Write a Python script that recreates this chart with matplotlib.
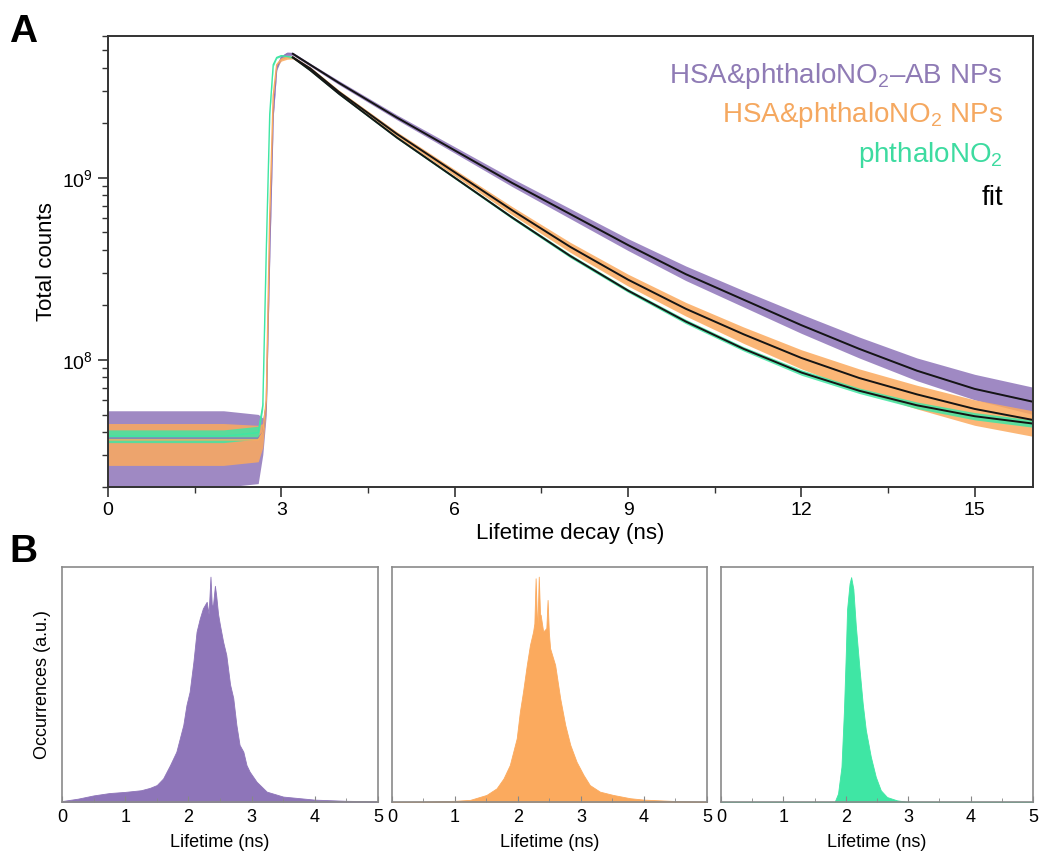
import numpy as np
import matplotlib
matplotlib.use("Agg")
import matplotlib.pyplot as plt
from matplotlib.ticker import LogLocator, MultipleLocator, NullFormatter

plt.rcParams['font.family'] = ['Liberation Sans', 'DejaVu Sans']
plt.rcParams['mathtext.fontset'] = 'custom'
plt.rcParams['mathtext.rm'] = 'Liberation Sans'
plt.rcParams['mathtext.it'] = 'Liberation Sans:italic'

# colours
PURPLE = '#8e75b9'
ORANGE = '#fbaa5e'
GREEN = '#3fe6a4'

# ---- panel A data (log10 of total counts) ----
# baseline + rising edge
t_rise = [0, 1, 2, 2.6, 2.68, 2.74, 2.8, 2.86, 2.92, 3.0, 3.1]
purple_rise = [7.57, 7.57, 7.57, 7.57, 7.6, 7.75, 8.6, 9.35, 9.6, 9.66, 9.68]
orange_rise = [7.56, 7.56, 7.56, 7.56, 7.6, 7.78, 8.8, 9.45, 9.62, 9.65, 9.66]
green_rise = [7.58, 7.58, 7.58, 7.6, 7.75, 8.6, 9.35, 9.62, 9.66, 9.67, 9.665]

# decay (fit curves; the data scatter around them)
t_fit = [3.2, 3.5, 4, 5, 6, 7, 8, 9, 10, 11, 12, 13, 14, 15, 16]
purple_fit = [9.68, 9.62, 9.52, 9.33, 9.15, 8.97, 8.80, 8.63, 8.47, 8.33, 8.19, 8.06, 7.94, 7.84, 7.77]
orange_fit = [9.66, 9.60, 9.47, 9.24, 9.03, 8.82, 8.62, 8.44, 8.28, 8.14, 8.01, 7.90, 7.81, 7.73, 7.67]
green_fit = [9.66, 9.59, 9.46, 9.22, 9.00, 8.78, 8.57, 8.38, 8.21, 8.06, 7.93, 7.83, 7.75, 7.69, 7.65]

# noise envelope (decades below / above the centre), on t_rise + t_fit
purple_lo = [0.27, 0.27, 0.27, 0.25, 0.12, 0.05, 0.03, 0.02, 0.01, 0.01, 0.01,
             0.008, 0.008, 0.01, 0.012, 0.015, 0.02, 0.025, 0.03, 0.035, 0.04, 0.045, 0.05, 0.055, 0.06, 0.07]
purple_hi = [0.15, 0.15, 0.15, 0.13, 0.08, 0.04, 0.03, 0.02, 0.01, 0.01, 0.01,
             0.008, 0.008, 0.012, 0.015, 0.02, 0.025, 0.03, 0.035, 0.045, 0.05, 0.06, 0.065, 0.07, 0.08, 0.08]
orange_lo = [0.14, 0.14, 0.14, 0.12, 0.08, 0.04, 0.03, 0.02, 0.01, 0.01, 0.01,
             0.008, 0.008, 0.01, 0.015, 0.02, 0.025, 0.03, 0.035, 0.04, 0.05, 0.06, 0.07, 0.08, 0.09, 0.09]
orange_hi = [0.09, 0.09, 0.09, 0.08, 0.05, 0.03, 0.02, 0.01, 0.01, 0.01, 0.01,
             0.008, 0.008, 0.01, 0.012, 0.015, 0.02, 0.025, 0.03, 0.035, 0.04, 0.045, 0.05, 0.05, 0.05, 0.05]
green_lo = [0.035, 0.035, 0.035, 0.035, 0.02, 0.01, 0.01, 0.01, 0.005, 0.005, 0.005,
            0.004, 0.004, 0.004, 0.005, 0.006, 0.008, 0.01, 0.01, 0.012, 0.012, 0.015, 0.015, 0.018, 0.02, 0.02]
green_hi = [0.035, 0.035, 0.035, 0.035, 0.02, 0.01, 0.01, 0.01, 0.005, 0.005, 0.005,
            0.004, 0.004, 0.004, 0.005, 0.006, 0.008, 0.01, 0.01, 0.012, 0.012, 0.015, 0.015, 0.018, 0.02, 0.02]

legend_labels = ['HSA&phthaloNO$_2$\u2013AB NPs', 'HSA&phthaloNO$_2$ NPs', 'phthaloNO$_2$', 'fit']

# ---- panel B data (normalised occurrences) ----
purple_t = [0, 0.25, 0.5, 0.75, 1.0, 1.25, 1.39, 1.5, 1.6, 1.71, 1.81, 1.92, 1.97, 2.02, 2.08, 2.13,
            2.18, 2.23, 2.29, 2.32, 2.35, 2.37, 2.39, 2.42, 2.44, 2.47, 2.50, 2.55, 2.60, 2.66, 2.71,
            2.76, 2.81, 2.87, 2.92, 2.97, 3.08, 3.24, 3.5, 4.0, 4.5, 5.0]
purple_h = [0.004, 0.014, 0.028, 0.038, 0.043, 0.05, 0.06, 0.072, 0.10, 0.157, 0.214, 0.328, 0.413,
            0.469, 0.597, 0.725, 0.78, 0.824, 0.852, 0.80, 0.959, 0.84, 0.838, 0.92, 0.88, 0.80, 0.753,
            0.682, 0.626, 0.50, 0.443, 0.328, 0.243, 0.214, 0.157, 0.129, 0.086, 0.044, 0.023, 0.01,
            0.005, 0.003]

orange_t = [0, 0.5, 1.0, 1.24, 1.5, 1.66, 1.77, 1.87, 1.98, 2.03, 2.08, 2.14, 2.19, 2.24, 2.26, 2.28,
            2.30, 2.31, 2.33, 2.35, 2.36, 2.40, 2.45, 2.47, 2.49, 2.51, 2.59, 2.67, 2.75, 2.83, 2.93,
            3.04, 3.14, 3.30, 3.51, 3.78, 4.0, 4.5, 5.0]
orange_h = [0.001, 0.002, 0.005, 0.009, 0.03, 0.058, 0.10, 0.157, 0.271, 0.384, 0.469, 0.583, 0.668,
            0.725, 0.76, 0.952, 0.78, 0.753, 0.959, 0.80, 0.796, 0.725, 0.74, 0.86, 0.72, 0.654, 0.583,
            0.441, 0.328, 0.243, 0.171, 0.115, 0.072, 0.044, 0.03, 0.016, 0.01, 0.004, 0.002]

green_t = [0, 1.82, 1.875, 1.93, 1.97, 2.0, 2.02, 2.06, 2.085, 2.12, 2.16, 2.22, 2.27, 2.32, 2.40,
           2.48, 2.56, 2.66, 2.82, 2.98, 5.0]
green_h = [0, 0, 0.036, 0.15, 0.39, 0.636, 0.82, 0.93, 0.957, 0.907, 0.75, 0.564, 0.42, 0.307, 0.193,
           0.107, 0.05, 0.021, 0.007, 0.001, 0]

# ---------------------------------------------------------------
fig = plt.figure(figsize=(10.4, 8.56), dpi=100)

ax = fig.add_axes([0.1038, 0.431, 0.889, 0.527])

t_all = np.array(t_rise + t_fit)
curves = [(purple_rise, purple_fit, purple_lo, purple_hi, PURPLE),
          (orange_rise, orange_fit, orange_lo, orange_hi, ORANGE),
          (green_rise, green_fit, green_lo, green_hi, GREEN)]
for rise, fit, lo, hi, col in curves:
    centre = np.array(rise + fit)
    ax.fill_between(t_all, 10 ** (centre - np.array(lo)), 10 ** (centre + np.array(hi)),
                    color=col, lw=0, alpha=0.85)
    ax.plot(t_all, 10 ** centre, color=col, lw=1.0)

for fit in [purple_fit, orange_fit, green_fit]:
    ax.plot(t_fit, 10 ** np.array(fit), color='#151515', lw=1.4)

ax.set_yscale('log')
ax.set_xlim(0, 16)
ax.set_ylim(2e7, 6e9)
ax.xaxis.set_major_locator(MultipleLocator(3))
ax.xaxis.set_minor_locator(MultipleLocator(1.5))
ax.yaxis.set_major_locator(LogLocator(base=10, numticks=10))
ax.yaxis.set_minor_locator(LogLocator(base=10, subs=np.arange(2, 10), numticks=10))
ax.yaxis.set_minor_formatter(NullFormatter())
ax.tick_params(axis='both', which='major', direction='out', length=7, width=1.2,
               labelsize=14, color='#333333')
ax.tick_params(axis='both', which='minor', direction='out', length=4, width=1.0, color='#333333')
for s in ax.spines.values():
    s.set_linewidth(1.4)
    s.set_color('#333333')
ax.set_xlabel('Lifetime decay (ns)', fontsize=16, labelpad=3)
ax.set_ylabel('Total counts', fontsize=16, labelpad=4)

legend_colors = ['#8f7bb5', '#f5a860', '#3ddba0', 'black']
legend_y = [0.896, 0.809, 0.721, 0.625]
for lab, col, yy in zip(legend_labels, legend_colors, legend_y):
    ax.text(0.968, yy, lab, color=col, fontsize=20, ha='right', va='baseline',
            transform=ax.transAxes)

fig.text(0.009, 0.951, 'A', fontsize=28, fontweight='bold', va='baseline')
fig.text(0.009, 0.343, 'B', fontsize=28, fontweight='bold', va='baseline')

# ---- panel B ----
lefts = [0.0596, 0.3769, 0.6933]
widths = [0.3038, 0.3029, 0.300]
hists = [(purple_t, purple_h, PURPLE), (orange_t, orange_h, ORANGE), (green_t, green_h, GREEN)]
for i, (ht, hh, col) in enumerate(hists):
    bx = fig.add_axes([lefts[i], 0.0631, widths[i], 0.2745])
    bx.fill_between(ht, 0, hh, color=col, lw=0.6, edgecolor=col)
    bx.set_xlim(0, 5)
    bx.set_ylim(0, 1)
    bx.set_yticks([])
    bx.xaxis.set_major_locator(MultipleLocator(1))
    bx.xaxis.set_minor_locator(MultipleLocator(0.5))
    bx.tick_params(axis='x', which='major', direction='in', length=4, color='#888888',
                   labelsize=13, pad=5)
    bx.tick_params(axis='x', which='minor', direction='in', length=3, color='#888888')
    for s in bx.spines.values():
        s.set_color('#8a8a8a')
        s.set_linewidth(1.2)
    bx.set_xlabel('Lifetime (ns)', fontsize=13, labelpad=6)
    if i == 0:
        bx.set_ylabel('Occurrences (a.u.)', fontsize=13, labelpad=8)

fig.savefig('out.png', dpi=100)
